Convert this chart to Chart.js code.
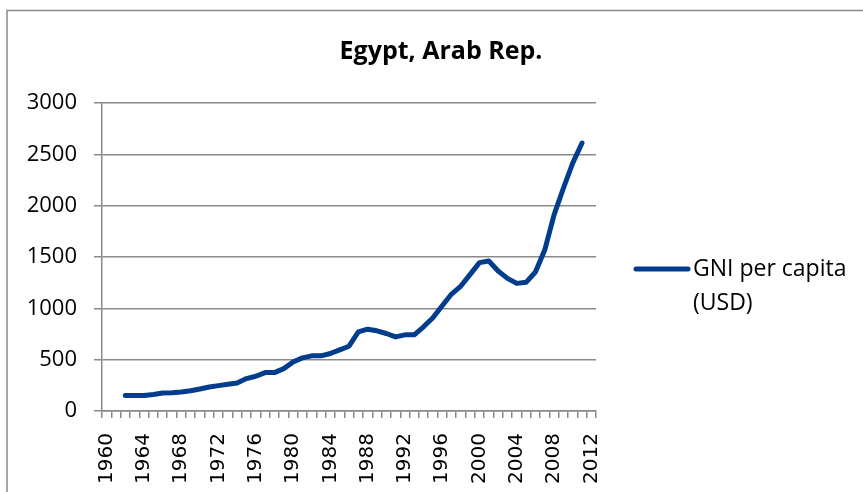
<!DOCTYPE html>
<html>
<head>
<meta charset="utf-8">
<script src="https://cdn.jsdelivr.net/npm/chart.js@4"></script>
<style>
  html, body { margin: 0; padding: 0; background: #fff; }
  #wrap { width: 863px; height: 492px; }
</style>
</head>
<body>
<div id="wrap"><canvas id="gniChart" width="863" height="492"></canvas></div>
<script>
// years on the axis (1960 .. 2012)
const years = [];
for (let y = 1960; y <= 2012; y++) years.push(String(y));

// GNI per capita, USD, 1962 .. 2011
const gniYears = [1962, 1963, 1964, 1965, 1966, 1967, 1968, 1969, 1970, 1971,
                  1972, 1973, 1974, 1975, 1976, 1977, 1978, 1979, 1980, 1981,
                  1982, 1983, 1984, 1985, 1986, 1987, 1988, 1989, 1990, 1991,
                  1992, 1993, 1994, 1995, 1996, 1997, 1998, 1999, 2000, 2001,
                  2002, 2003, 2004, 2005, 2006, 2007, 2008, 2009, 2010, 2011];
const gniValues = [150, 150, 150, 160, 175, 178, 185, 198, 215, 234,
                   247, 260, 273, 316, 338, 374, 374, 413, 478, 517,
                   537, 537, 560, 595, 631, 771, 797, 781, 755, 722,
                   742, 742, 820, 908, 1025, 1139, 1217, 1331, 1445, 1461,
                   1363, 1292, 1243, 1253, 1354, 1568, 1910, 2170, 2414, 2610];

const yTicks = [0, 500, 1000, 1500, 2000, 2500, 3000];
const chartTitle = "Egypt, Arab Rep.";

const seriesData = years.map(function (y) {
    const i = gniYears.indexOf(Number(y));
    return i >= 0 ? gniValues[i] : null;
});

const gray = "#898989";
const lineColor = "#023c8c";
const textFont = "'Open Sans', 'Liberation Sans', sans-serif";

// outer frame, title and legend
const framePlugin = {
    id: "frame",
    beforeDraw(chart) {
        const c = chart.ctx;
        c.save();
        c.strokeStyle = gray;
        c.lineWidth = 1.5;
        c.strokeRect(7, 10.5, 900, 600);
        c.restore();
    },
    afterDraw(chart) {
        const c = chart.ctx;
        const ds = chart.data.datasets[0];
        const parts = ds.label.split(" (");
        c.save();
        c.fillStyle = "#000";
        c.font = "bold 25px " + textFont;
        c.textAlign = "center";
        c.textBaseline = "alphabetic";
        c.fillText(chartTitle, 441, 59);

        c.strokeStyle = ds.borderColor;
        c.lineWidth = 5;
        c.lineCap = "round";
        c.beginPath();
        c.moveTo(636, 269);
        c.lineTo(688, 269);
        c.stroke();
        c.font = "23px " + textFont;
        c.textAlign = "left";
        c.textBaseline = "middle";
        c.fillText(parts[0], 693, 269);
        c.fillText("(" + parts[1], 693, 303);
        c.restore();
    }
};

const ctx = document.getElementById("gniChart").getContext("2d");
const gniChart = new Chart(ctx, {
    type: "line",
    data: {
        labels: years,
        datasets: [{
            label: "GNI per capita (USD)",
            data: seriesData,
            borderColor: lineColor,
            borderWidth: 5,
            borderJoinStyle: "round",
            borderCapStyle: "round",
            pointRadius: 0,
            tension: 0,
            fill: false
        }]
    },
    options: {
        responsive: false,
        animation: false,
        layout: { padding: { left: 7, right: 267, top: 103, bottom: 0 } },
        plugins: {
            legend: { display: false },
            tooltip: { enabled: false },
            title: { display: false }
        },
        scales: {
            x: {
                offset: true,
                border: { color: gray, width: 1.5 },
                grid: { drawOnChartArea: false, drawTicks: true, tickLength: 7, offset: true, color: gray, lineWidth: 1.5 },
                ticks: {
                    autoSkip: false,
                    minRotation: 90,
                    maxRotation: 90,
                    padding: 15,
                    color: "#000",
                    font: { family: "'DejaVu Sans', sans-serif", size: 20 },
                    callback: function (v, i) {
                        const y = Number(years[i]);
                        return y % 4 === 0 ? years[i] : "";
                    }
                },
                afterFit: function (s) { s.height = 81; }
            },
            y: {
                min: 0,
                max: 3000,
                border: { color: gray, width: 1.5 },
                grid: { color: gray, lineWidth: 1.5, tickLength: 8 },
                ticks: {
                    stepSize: 500,
                    padding: 17,
                    color: "#000",
                    font: { family: textFont, size: 22 },
                    callback: function (v) { return yTicks.indexOf(v) >= 0 ? String(v) : ""; }
                },
                afterFit: function (s) { s.width = 95; }
            }
        }
    },
    plugins: [framePlugin]
});
</script>
</body>
</html>
